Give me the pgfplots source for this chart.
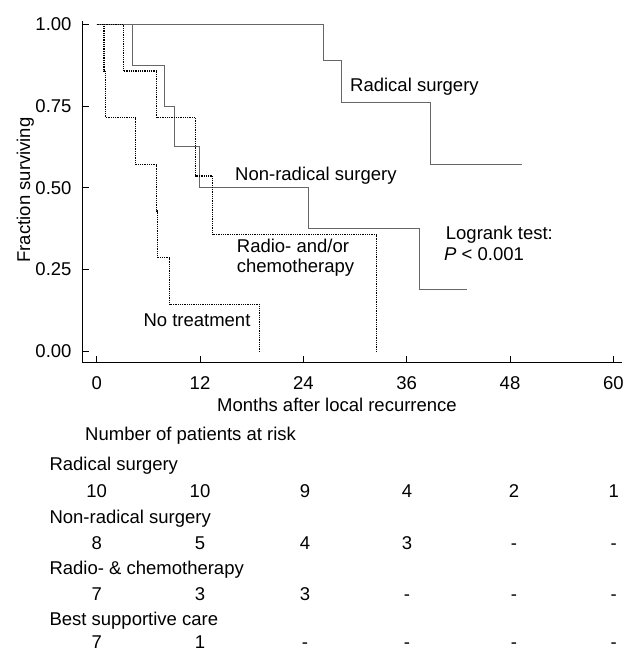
\documentclass[border=0pt]{standalone}
\usepackage{fontspec}
\setmainfont{Liberation Sans}
\usepackage{pgfplots}
\pgfplotsset{compat=1.18}
\begin{document}
\fontsize{18.5}{22}\selectfont
\begin{tikzpicture}
\path[use as bounding box] (0pt,0pt) rectangle (624pt,652pt);
\begin{axis}[at={(82.3pt,289.3pt)}, anchor=south west, scale only axis,
  width=539.4pt, height=341.7pt,
  xmin=-1.67, xmax=60.97, ymin=-0.035, ymax=1.01,
  axis lines=left, axis line style={-, line width=1pt, black},
  every tick/.style={black, line width=0.9pt},
  tick align=inside, major tick length=6.5pt,
  xtick={0,12,24,36,48,60}, ytick={0,0.25,0.5,0.75,1},
  /pgf/number format/assume math mode=true,
  tick label style={font=\fontsize{18.5}{22}\selectfont},
  yticklabel style={/pgf/number format/.cd, fixed, fixed zerofill, precision=2, /tikz/.cd, anchor=east, inner sep=0pt, xshift=-10.6pt},
  xticklabel style={anchor=base, inner sep=0pt, yshift=-26.6pt},
  clip=false]
% Radical surgery
\addplot[const plot mark left, color=black!60, line width=1pt] coordinates {
 (0,1) (26.3,0.889) (28.45,0.762) (38.8,0.571) (49.4,0.571)};
% Non-radical surgery
\addplot[const plot mark left, color=black!60, line width=1pt] coordinates {
 (0,1) (4.13,0.875) (7.93,0.75) (9.09,0.625) (11.9,0.5) (24.6,0.375) (37.5,0.1875) (43.0,0.1875)};
% Radio- and/or chemotherapy
\addplot[const plot mark left, color=black, line width=1.1pt, dash pattern=on 1pt off 0.8pt] coordinates {
 (0,1) (3.1,0.857) (6.97,0.714) (11.5,0.536) (13.5,0.357) (32.5,0)};
% No treatment
\addplot[const plot mark left, color=black, line width=1.1pt, dash pattern=on 1pt off 0.8pt] coordinates {
 (0,1) (0.85,0.857) (1.0,0.714) (4.5,0.571) (6.97,0.429) (7.1,0.286) (8.5,0.143) (18.9,0)};
\end{axis}
% curve labels
\node[anchor=base west, inner sep=0pt] at (350pt,560.3pt) {Radical surgery};
\node[anchor=base west, inner sep=0pt] at (235pt,471.3pt) {Non-radical surgery};
\node[anchor=base west, inner sep=0pt] at (236.7pt,399.7pt) {Radio- and/or};
\node[anchor=base west, inner sep=0pt] at (236.7pt,379pt) {chemotherapy};
\node[anchor=base west, inner sep=0pt] at (143.3pt,325.3pt) {No treatment};
\node[anchor=base west, inner sep=0pt] at (445.7pt,412pt) {Logrank test:};
\node[anchor=base west, inner sep=0pt] at (444pt,391.3pt) {\textit{P} < 0.001};
% axis labels
\node[anchor=base west, inner sep=0pt] at (217pt,240.3pt) {Months after local recurrence};
\node[anchor=base, rotate=90, inner sep=0pt] at (30pt,462pt) {Fraction surviving};
% at-risk table
\node[anchor=base west, inner sep=0pt] at (85pt,211pt) {Number of patients at risk};
\node[anchor=base west, inner sep=0pt] at (49.3pt,181pt) {Radical surgery};
\node[anchor=base west, inner sep=0pt] at (49.3pt,128.7pt) {Non-radical surgery};
\node[anchor=base west, inner sep=0pt] at (49.3pt,77.7pt) {Radio- \& chemotherapy};
\node[anchor=base west, inner sep=0pt] at (49.3pt,26pt) {Best supportive care};
\foreach \x/\t in {96.7/10,200/10,305/9,407/4,514/2,613.7/1}
  \node[anchor=base, inner sep=0pt] at (\x pt,154.4pt) {\t};
\foreach \x/\t in {96.7/8,200/5,305/4,407/3,514/-,613.7/-}
  \node[anchor=base, inner sep=0pt] at (\x pt,102pt) {\t};
\foreach \x/\t in {96.7/7,200/3,305/3,407/-,514/-,613.7/-}
  \node[anchor=base, inner sep=0pt] at (\x pt,51.4pt) {\t};
\foreach \x/\t in {96.7/7,200/1,305/-,407/-,514/-,613.7/-}
  \node[anchor=base, inner sep=0pt] at (\x pt,3pt) {\t};
\end{tikzpicture}
\end{document}
